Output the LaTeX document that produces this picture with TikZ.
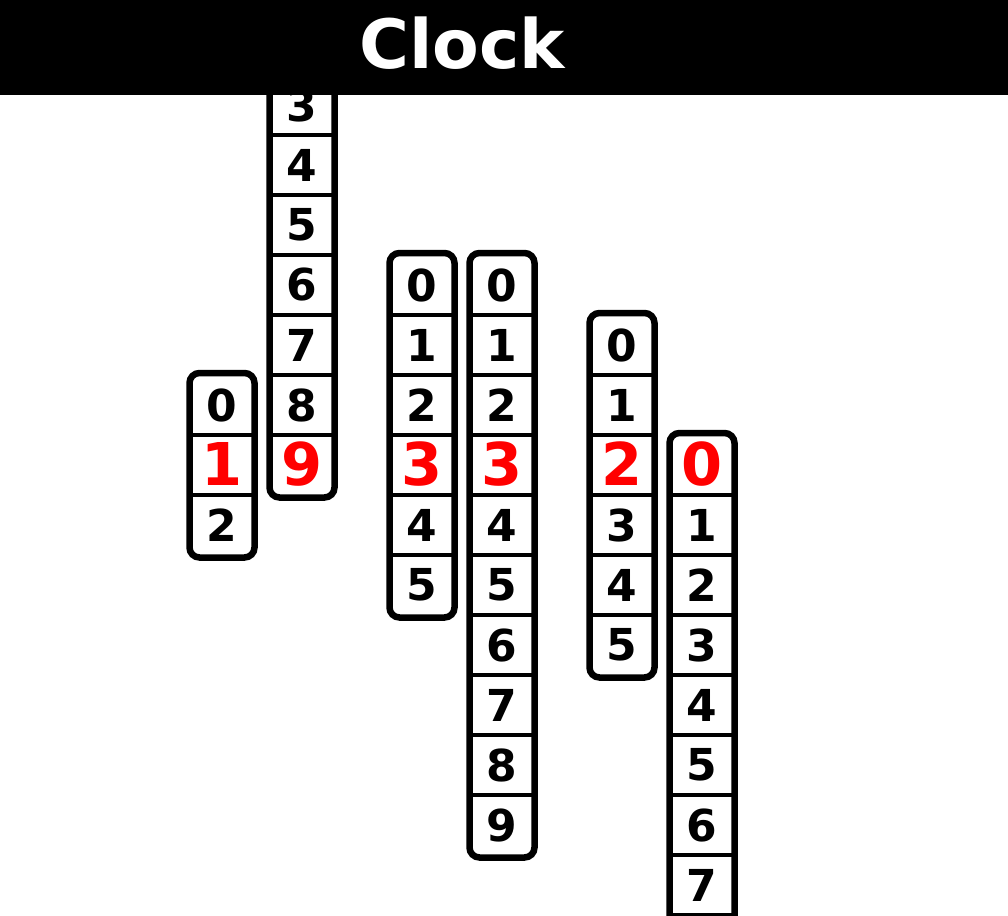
\documentclass[tikz,border=0pt]{standalone}
\usepackage{fontspec}
\setmainfont{DejaVu Sans}
\newcommand\clockcol[4]{% #1 name, #2 x centre, #3 last index, #4 highlighted index
  \pgfmathsetmacro\ctop{435-60*#4-2}%
  \pgfmathsetmacro\cbot{495+60*(#3-#4)+2.5}%
  \fill[white, rounded corners=10pt] (#2-32.5,\ctop) rectangle (#2+32.5,\cbot);
  \foreach \i in {1,...,#3} {
    \draw[divider] (#2-32.5,{435+60*(\i-#4)}) -- (#2+32.5,{435+60*(\i-#4)});
  }
  \draw[colbox] (#2-32.5,\ctop) rectangle (#2+32.5,\cbot);
  \foreach \i in {0,...,#3} {
    \ifnum\i=#4
      \node[curdigit] (#1-\i) at (#2,{464+60*(\i-#4)}) {\i};
    \else
      \node[digit] (#1-\i) at (#2,{465+60*(\i-#4)}) {\i};
    \fi
  }
}
\begin{document}
\begin{tikzpicture}[x=1pt,y=-1pt,
  colbox/.style={draw=black, line width=6.5pt, rounded corners=10pt},
  divider/.style={draw=black, line width=4.7pt},
  digit/.style={font=\bfseries\fontsize{44}{52}\selectfont, text=black, inner sep=0pt},
  curdigit/.style={font=\bfseries\fontsize{59}{70}\selectfont, text=red, inner sep=0pt},
  titletext/.style={font=\bfseries\fontsize{68}{82}\selectfont, text=white, inner sep=0pt}]
\useasboundingbox (0,0) rectangle (1008,915);
\clip (0,0) rectangle (1008,915);
\fill[white] (0,0) rectangle (1008,915);
\clockcol{h1}{222}{2}{1}
\clockcol{h2}{302}{9}{9}
\clockcol{m1}{422}{5}{3}
\clockcol{m2}{502}{9}{3}
\clockcol{s1}{622}{5}{2}
\clockcol{s2}{702}{9}{0}
\fill[black] (0,0) rectangle (1008,95);
\node[titletext] (title) at (462,43) {Clock};
\end{tikzpicture}
\end{document}
